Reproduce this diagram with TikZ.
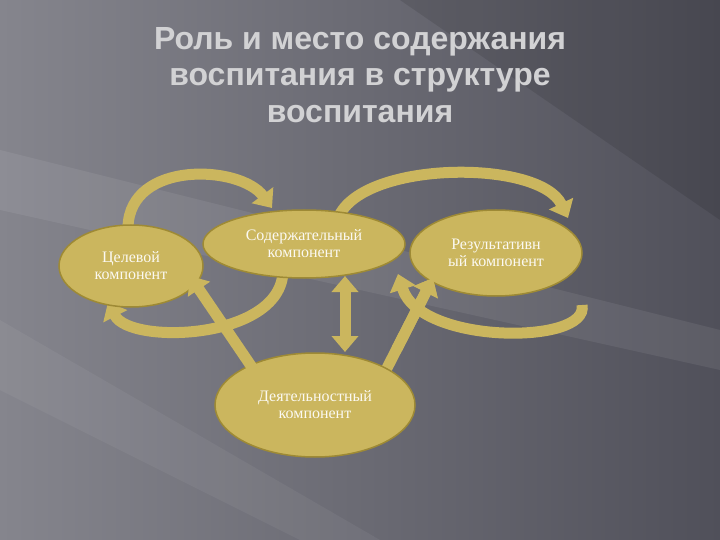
\documentclass[tikz,border=0pt]{standalone}
\usepackage{fontspec}
\setmainfont{Liberation Serif}
\newfontfamily\titlefont{Liberation Sans}
\usetikzlibrary{arrows.meta,shapes.geometric,calc}
\definecolor{gold}{HTML}{CBB65E}
\definecolor{golddark}{HTML}{9E8A35}
\definecolor{bgA}{HTML}{50505A}
\definecolor{bgB}{HTML}{85858D}
\definecolor{titlec}{HTML}{D2D2D4}
\tikzset{
  comp/.style={ellipse, fill=gold, draw=golddark, line width=1.5pt, text=white!92!gold, font=\fontsize{16}{17}\selectfont, align=center, inner sep=0pt},
  garrow/.style={line width=11pt, draw=gold, -{Triangle[width=26pt,length=16pt]}},
  garrowb/.style={line width=11pt, draw=gold, {Triangle[width=26pt,length=16pt]}-{Triangle[width=26pt,length=16pt]}},
  ttl/.style={font=\titlefont\bfseries\fontsize{32}{33}\selectfont, text=titlec}
}
\begin{document}
\begin{tikzpicture}[x=1pt,y=-1pt]
\useasboundingbox (0,0) rectangle (720,540);
\shade[left color=bgB, right color=bgA] (0,0) rectangle (720,540);
\fill[white, opacity=0.07] (0,150) -- (720,330) -- (720,370) -- (0,210) -- cycle;
\fill[white, opacity=0.05] (0,320) -- (380,540) -- (300,540) -- (0,390) -- cycle;
\fill[black, opacity=0.10] (400,0) -- (720,0) -- (720,220) -- cycle;
\node[ttl] (t1) at (360,42) {Роль и место содержания};
\node[ttl] (t2) at (360,80) {воспитания в структуре};
\node[ttl] (t3) at (360,114) {воспитания};
\coordinate (a1s) at (128,227); \coordinate (a1e) at (272,208);
\coordinate (a2s) at (340,214); \coordinate (a2e) at (568,218);
\coordinate (a3s) at (283,272); \coordinate (a3e) at (108,302);
\coordinate (a4s) at (582,305); \coordinate (a4e) at (398,274);
\draw[garrow] (a1s) .. controls (130,160) and (240,165) .. (a1e);
\draw[garrow] (a2s) .. controls (370,160) and (540,160) .. (a2e);
\draw[garrow] (a3s) .. controls (280,340) and (130,345) .. (a3e);
\draw[garrow] (a4s) .. controls (590,345) and (420,345) .. (a4e);
\coordinate (l1) at (190,276); \coordinate (l2) at (262,382);
\coordinate (m1) at (345,276); \coordinate (m2) at (345,352);
\coordinate (q1) at (385,372); \coordinate (q2) at (433,278);
\draw[garrow] (q1) -- (q2);
\node[comp, minimum width=144pt, minimum height=82pt] (c) at (131,266) {Целевой\\компонент};
\node[comp, minimum width=202pt, minimum height=68pt] (s) at (304,244) {Содержательный\\компонент};
\node[comp, minimum width=172pt, minimum height=86pt] (r) at (496,253) {Результативн\\ый компонент};
\node[comp, minimum width=200pt, minimum height=104pt] (d) at (315,405) {Деятельностный\\компонент};
\draw[garrowb] (l1) -- (l2);
\draw[garrowb] (m1) -- (m2);
\draw[garrow] ($(q1)!0.25!(q2)$) -- (q2);
\end{tikzpicture}
\end{document}
